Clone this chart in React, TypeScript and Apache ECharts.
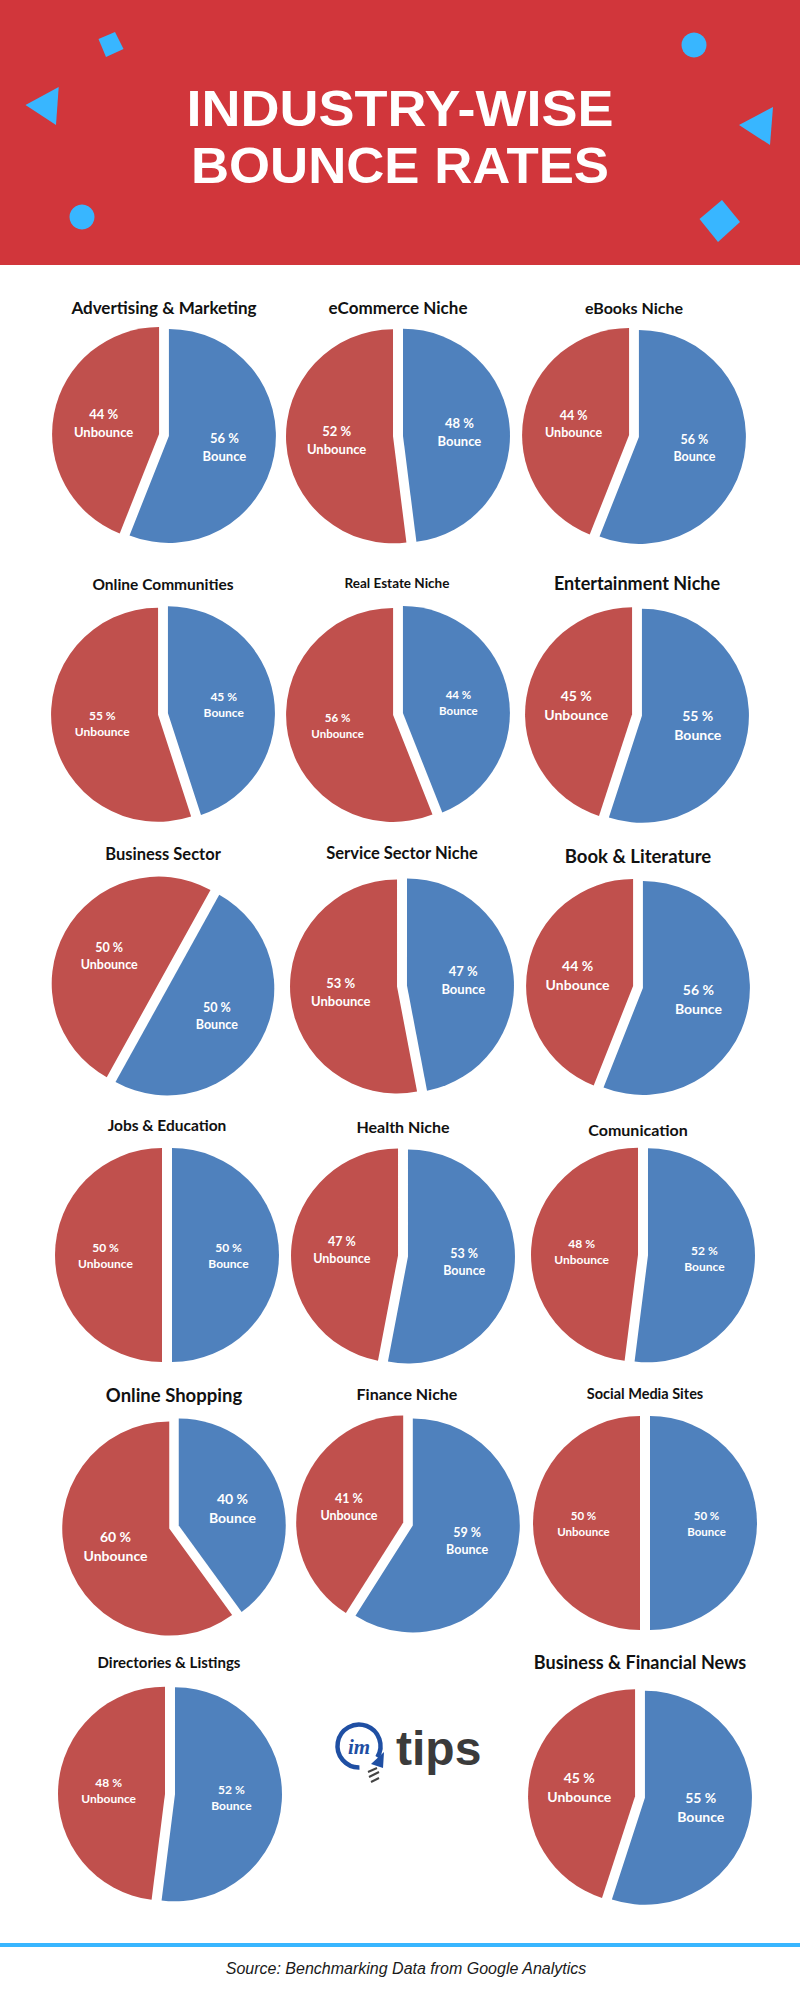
import React, { useEffect, useRef } from "react";
import * as echarts from "echarts";

// ---- data ----
const PIE_TITLES = [
  "Advertising & Marketing",
  "eCommerce Niche",
  "eBooks Niche",
  "Online Communities",
  "Real Estate Niche",
  "Entertainment Niche",
  "Business Sector",
  "Service Sector Niche",
  "Book & Literature",
  "Jobs & Education",
  "Health Niche",
  "Comunication",
  "Online Shopping",
  "Finance Niche",
  "Social Media Sites",
  "Directories & Listings",
  "Business & Financial News",
];
const BOUNCE = [56, 48, 56, 45, 44, 55, 50, 47, 56, 50, 53, 52, 40, 59, 50, 52, 55];
const UNBOUNCE = [44, 52, 44, 55, 56, 45, 50, 53, 44, 50, 47, 48, 60, 41, 50, 48, 45];
const SLICE_NAMES = ["Bounce", "Unbounce"];
const MAIN_TITLE = ["INDUSTRY-WISE", "BOUNCE RATES"];
const SOURCE = "Source: Benchmarking Data from Google Analytics";

// ---- layout (positions / sizes / styles) ----
const CENTERS: [number, number][] = [
  [164, 435], [398, 436], [634, 436],
  [163, 714], [398, 714], [637, 715],
  [163, 986], [402, 986], [638, 987],
  [167, 1255], [403, 1256], [643, 1255],
  [174, 1527], [408, 1524], [645, 1523],
  [170, 1794], [640, 1797],
];
const TITLE_POS: [number, number][] = [
  [164, 307], [398, 307], [634, 307],
  [163, 584], [397, 583], [637, 583],
  [163, 854], [402, 853], [638, 856],
  [167, 1125], [403, 1126], [638, 1129],
  [174, 1395], [407, 1393], [645, 1393],
  [169, 1662], [640, 1662],
];
const TITLE_SIZE = [17, 17, 16, 15.5, 13.5, 18, 16.5, 16.5, 18.5, 15.5, 16, 16, 18.5, 16, 14.5, 15, 18];
const LABEL_SIZE = [13, 13, 12.5, 12, 11.5, 14, 12.5, 13, 14, 12, 12.5, 12, 14, 12.5, 11.5, 12, 14];
const START_ANGLE = [90, 90, 90, 90, 90, 90, 61, 90, 90, 90, 90, 90, 90, 90, 90, 90, 90];
const MAIN_TITLE_Y = [109, 165.5];
const MAIN_TITLE_SCALE = [1.08, 1.055];
const RADIUS = 107;
const BLUE = "#4f81bd";
const RED = "#c0504d";
const ACCENT = "#38b6ff";
const HEADER_RED = "#d1363b";

export default function App() {
  const ref = useRef<HTMLDivElement>(null);
  useEffect(() => {
    if (!ref.current) return;
    const chart = echarts.init(ref.current, null, { renderer: "svg" });

    const series = PIE_TITLES.map((t, i) => ({
      type: "pie",
      name: t,
      center: CENTERS[i],
      radius: [0, RADIUS],
      startAngle: START_ANGLE[i],
      clockwise: true,
      selectedMode: "multiple",
      selectedOffset: 5,
      emphasis: { disabled: true },
      labelLine: { show: false },
      label: {
        show: true,
        position: "inside",
        formatter: "{c} %\n{b}",
        color: "#ffffff",
        fontWeight: "bold",
        fontFamily: "Lato",
        fontSize: LABEL_SIZE[i],
        lineHeight: Math.round(LABEL_SIZE[i] * 1.35),
      },
      data: [
        { name: SLICE_NAMES[0], value: BOUNCE[i], selected: true, itemStyle: { color: BLUE } },
        { name: SLICE_NAMES[1], value: UNBOUNCE[i], selected: true, itemStyle: { color: RED } },
      ],
    }));

    const titles = PIE_TITLES.map((t, i) => ({
      type: "text",
      x: TITLE_POS[i][0],
      y: TITLE_POS[i][1],
      style: {
        text: t,
        fill: "#111111",
        fontFamily: "Lato",
        fontWeight: "bold",
        fontSize: TITLE_SIZE[i],
        align: "center",
        verticalAlign: "middle",
      },
    }));

    const mainTitle = MAIN_TITLE.map((t, i) => ({
      type: "text",
      x: 400,
      y: MAIN_TITLE_Y[i],
      scaleX: MAIN_TITLE_SCALE[i],
      style: {
        text: t, fill: "#ffffff", fontFamily: "Liberation Sans", fontWeight: "bold",
        fontSize: 50, align: "center", verticalAlign: "middle",
      },
    }));

    const graphic: any[] = [
      { type: "rect", shape: { x: 0, y: 0, width: 800, height: 265 }, style: { fill: HEADER_RED } },
      { type: "polygon", shape: { points: [[115, 32], [123.5, 49], [106, 57], [98.5, 39]] }, style: { fill: ACCENT } },
      { type: "circle", shape: { cx: 694, cy: 45, r: 12.5 }, style: { fill: ACCENT } },
      { type: "polygon", shape: { points: [[25.5, 105], [58.7, 87], [56, 125]] }, style: { fill: ACCENT } },
      { type: "polygon", shape: { points: [[739, 125], [773, 107], [770, 145]] }, style: { fill: ACCENT } },
      { type: "circle", shape: { cx: 82, cy: 217, r: 12.5 }, style: { fill: ACCENT } },
      { type: "polygon", shape: { points: [[722, 200], [740, 222], [718, 242], [699.5, 219]] }, style: { fill: ACCENT } },
      ...mainTitle,
      ...titles,
      // logo
      {
        type: "arc",
        shape: { cx: 359, cy: 1746, r: 21.5, startAngle: 1.55, endAngle: Math.PI * 2 + 0.55, clockwise: true },
        style: { stroke: "#1f4fa3", lineWidth: 4.5, fill: "none" },
      },
      { type: "polygon", shape: { points: [[371, 1764], [384, 1752], [383, 1768]] }, style: { fill: "#1f4fa3" } },
      {
        type: "text", x: 359, y: 1747,
        style: { text: "im", fill: "#1f4fa3", fontFamily: "Liberation Serif", fontStyle: "italic", fontWeight: "bold", fontSize: 21, align: "center", verticalAlign: "middle" },
      },
      { type: "polyline", shape: { points: [[368, 1772], [377, 1768]] }, style: { stroke: "#444", lineWidth: 2 } },
      { type: "polyline", shape: { points: [[369, 1777], [379, 1772]] }, style: { stroke: "#444", lineWidth: 2 } },
      { type: "polyline", shape: { points: [[371, 1782], [379, 1778]] }, style: { stroke: "#444", lineWidth: 2 } },
      {
        type: "text", x: 396, y: 1748,
        style: { text: "tips", fill: "#3b3b3b", fontFamily: "Liberation Sans", fontWeight: "bold", fontSize: 48, align: "left", verticalAlign: "middle" },
      },
      // footer
      { type: "rect", shape: { x: 0, y: 1943, width: 800, height: 4 }, style: { fill: ACCENT } },
      {
        type: "text", x: 406, y: 1968,
        style: { text: SOURCE, fill: "#1a1a1a", fontFamily: "Liberation Sans", fontStyle: "italic", fontSize: 16, align: "center", verticalAlign: "middle" },
      },
    ];

    chart.setOption({
      animation: false,
      backgroundColor: "#ffffff",
      series,
      graphic,
    } as any);

    return () => chart.dispose();
  }, []);

  return (
    <div
      ref={ref}
      style={{ position: "absolute", left: 0, top: 0, width: 800, height: 2000 }}
    />
  );
}
